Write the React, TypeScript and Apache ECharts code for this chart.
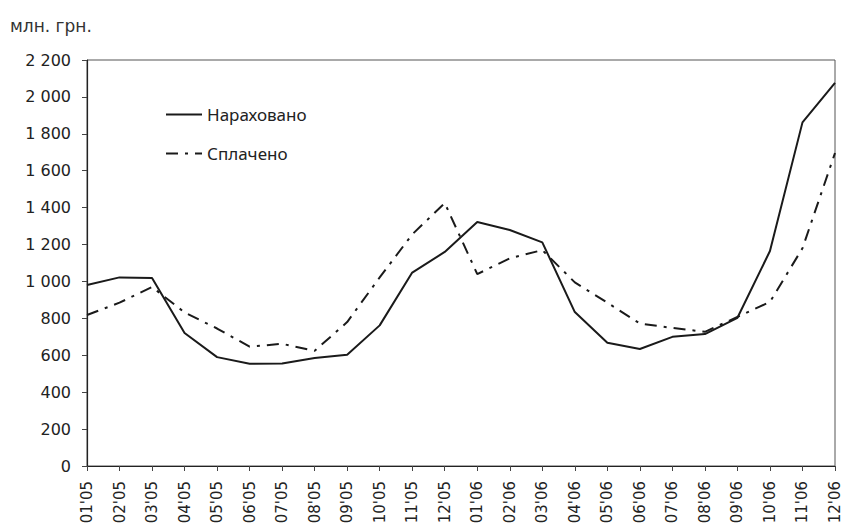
import React, { useEffect, useRef } from "react";
import * as echarts from "echarts";

const categories = [
  "01'05", "02'05", "03'05", "04'05", "05'05", "06'05", "07'05", "08'05", "09'05", "10'05", "11'05", "12'05",
  "01'06", "02'06", "03'06", "04'06", "05'06", "06'06", "07'06", "08'06", "09'06", "10'06", "11'06", "12'06",
];

const accrued = [
  981, 1022, 1019, 721, 590, 554, 556, 585, 603, 762, 1048, 1160,
  1322, 1279, 1212, 834, 668, 634, 700, 715, 803, 1165, 1862, 2076,
];

const paid = [
  818, 885, 970, 832, 745, 647, 662, 624, 780, 1022, 1255, 1425,
  1040, 1125, 1170, 995, 885, 772, 748, 727, 808, 889, 1180, 1696,
];

const seriesNames = ["Нараховано", "Сплачено"];
const unitLabel = "млн. грн.";

const FONT = "'DejaVu Sans', 'Noto Sans', sans-serif";
const LFONT = "'Noto Sans', 'DejaVu Sans', sans-serif";

export default function App() {
  const ref = useRef<HTMLDivElement>(null);
  useEffect(() => {
    if (!ref.current) return;
    const chart = echarts.init(ref.current, undefined, { renderer: "svg" });
    chart.setOption({
      animation: false,
      backgroundColor: "#ffffff",
      textStyle: { fontFamily: FONT },
      title: {
        text: unitLabel,
        left: 5,
        top: 12,
        textStyle: { fontFamily: FONT, fontSize: 17, fontWeight: "normal", color: "#333" },
      },
      legend: {
        orient: "vertical",
        left: 160,
        top: 101,
        itemWidth: 36,
        itemHeight: 14,
        itemGap: 22,
        itemStyle: { opacity: 0 },
        lineStyle: { opacity: 1, width: 2 },
        textStyle: { fontFamily: LFONT, fontSize: 17, color: "#222" },
        data: seriesNames,
      },
      grid: {
        left: 87,
        right: 8,
        top: 60,
        bottom: 59,
        show: true,
        borderColor: "#555",
        borderWidth: 1,
        containLabel: false,
        outerBoundsMode: "none",
      },
      xAxis: {
        type: "category",
        data: categories,
        boundaryGap: false,
        axisLine: { lineStyle: { color: "#222", width: 1.2 } },
        axisTick: { show: true, inside: false, length: 5, lineStyle: { color: "#444" } },
        axisLabel: {
          rotate: 90,
          interval: 0,
          margin: 15,
          fontFamily: FONT,
          fontSize: 15,
          color: "#222",
        },
        splitLine: { show: false },
      },
      yAxis: {
        type: "value",
        min: 0,
        max: 2200,
        interval: 200,
        axisLine: { show: true, lineStyle: { color: "#222", width: 1.2 } },
        axisTick: { show: true, inside: false, length: 5, lineStyle: { color: "#444" } },
        axisLabel: {
          margin: 16,
          fontFamily: FONT,
          fontSize: 16,
          color: "#222",
          formatter: (v: number) => String(v).replace(/\B(?=(\d{3})+(?!\d))/g, " "),
        },
        splitLine: { show: false },
      },
      series: [
        {
          name: seriesNames[0],
          type: "line",
          data: accrued,
          symbol: "none",
          color: "#1a1a1a",
          lineStyle: { color: "#1a1a1a", width: 2 },
        },
        {
          name: seriesNames[1],
          type: "line",
          data: paid,
          symbol: "none",
          color: "#1a1a1a",
          lineStyle: { color: "#1a1a1a", width: 2, type: [12, 7, 3, 7] },
        },
      ],
    });
    return () => chart.dispose();
  }, []);
  return <div ref={ref} style={{ width: 843, height: 525, position: "absolute", left: 0, top: 0 }} />;
}
